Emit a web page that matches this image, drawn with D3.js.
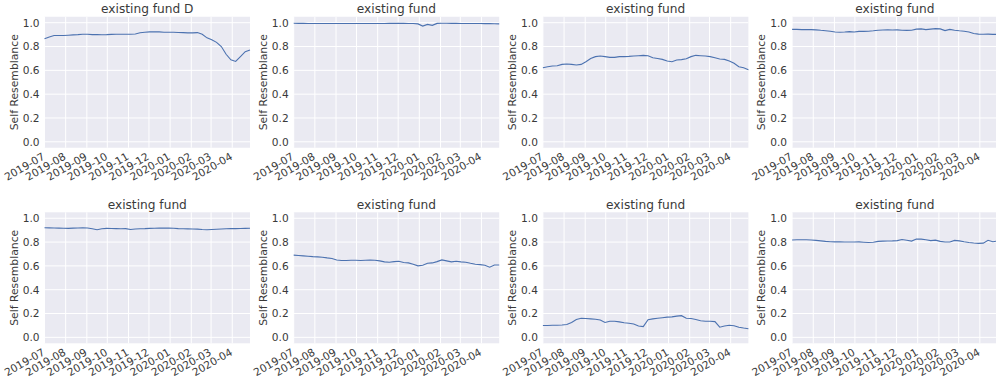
<!DOCTYPE html>
<html>
<head>
<meta charset="utf-8">
<script src="https://cdn.jsdelivr.net/npm/d3@7"></script>
<style>
  html, body { margin: 0; padding: 0; background: #ffffff; }
  svg { display: block; }
  text { font-family: "DejaVu Sans", "Noto Sans", sans-serif; fill: #3a3a3a; }
</style>
</head>
<body>
<svg id="chart" width="996" height="383"></svg>
<script>
// Weekly observation dates (Mondays)
const dates = [
  "2019-07-01","2019-07-08","2019-07-15","2019-07-22","2019-07-29",
  "2019-08-05","2019-08-12","2019-08-19","2019-08-26",
  "2019-09-02","2019-09-09","2019-09-16","2019-09-23","2019-09-30",
  "2019-10-07","2019-10-14","2019-10-21","2019-10-28",
  "2019-11-04","2019-11-11","2019-11-18","2019-11-25",
  "2019-12-02","2019-12-09","2019-12-16","2019-12-23","2019-12-30",
  "2020-01-06","2020-01-13","2020-01-20","2020-01-27",
  "2020-02-03","2020-02-10","2020-02-17","2020-02-24",
  "2020-03-02","2020-03-09","2020-03-16","2020-03-23","2020-03-30",
  "2020-04-06","2020-04-13","2020-04-20","2020-04-27"
];

// Panel titles, in reading order
const titles = [
  "existing fund D", "existing fund", "existing fund", "existing fund",
  "existing fund", "existing fund", "existing fund", "existing fund"
];

// Self resemblance of each fund, one value per date
const fundD = [0.865,0.880,0.892,0.892,0.892,0.895,0.898,0.900,0.903,0.903,0.900,0.900,0.899,0.900,
  0.902,0.903,0.903,0.903,0.903,0.905,0.915,0.920,0.923,0.923,0.923,0.920,0.920,0.920,0.918,0.917,
  0.915,0.915,0.917,0.903,0.873,0.857,0.835,0.800,0.735,0.688,0.675,0.716,0.757,0.770];
const fund2 = [0.995,0.994,0.994,0.993,0.993,0.993,0.993,0.993,0.993,0.993,0.993,0.993,0.993,0.993,
  0.993,0.993,0.993,0.993,0.993,0.993,0.994,0.994,0.994,0.994,0.993,0.993,0.990,0.972,0.986,0.978,
  0.994,0.996,0.995,0.994,0.994,0.993,0.993,0.993,0.993,0.993,0.992,0.992,0.991,0.990];
const fund3 = [0.622,0.630,0.636,0.639,0.650,0.653,0.650,0.645,0.650,0.672,0.700,0.715,0.720,0.715,
  0.709,0.709,0.715,0.715,0.717,0.720,0.723,0.726,0.723,0.706,0.700,0.692,0.678,0.672,0.687,0.690,
  0.698,0.715,0.726,0.723,0.720,0.715,0.706,0.695,0.692,0.678,0.659,0.630,0.622,0.605];
const fund4 = [0.944,0.944,0.942,0.942,0.942,0.940,0.936,0.933,0.928,0.922,0.920,0.922,0.925,0.922,
  0.927,0.927,0.928,0.932,0.937,0.939,0.940,0.939,0.940,0.937,0.936,0.937,0.946,0.948,0.942,0.946,
  0.950,0.948,0.934,0.944,0.937,0.932,0.928,0.922,0.910,0.904,0.903,0.904,0.902,0.902];
const fund5 = [0.920,0.919,0.918,0.917,0.916,0.915,0.917,0.918,0.920,0.918,0.912,0.903,0.912,0.915,
  0.914,0.913,0.912,0.913,0.905,0.910,0.912,0.913,0.915,0.916,0.917,0.918,0.917,0.916,0.913,0.912,
  0.911,0.910,0.909,0.905,0.904,0.906,0.908,0.910,0.912,0.913,0.913,0.914,0.915,0.916];
const fund6 = [0.690,0.687,0.684,0.681,0.678,0.676,0.673,0.667,0.662,0.650,0.645,0.645,0.648,0.648,
  0.645,0.648,0.650,0.648,0.642,0.634,0.631,0.636,0.639,0.628,0.625,0.614,0.600,0.606,0.622,0.625,
  0.636,0.650,0.642,0.634,0.639,0.634,0.631,0.622,0.614,0.611,0.606,0.589,0.608,0.608];
const fund7 = [0.100,0.100,0.101,0.102,0.104,0.108,0.125,0.150,0.160,0.158,0.155,0.152,0.145,0.125,
  0.135,0.135,0.130,0.122,0.118,0.112,0.095,0.090,0.148,0.155,0.160,0.165,0.170,0.172,0.178,0.182,
  0.160,0.158,0.150,0.140,0.135,0.135,0.132,0.085,0.095,0.102,0.098,0.085,0.078,0.072];
const fund8 = [0.818,0.819,0.820,0.820,0.818,0.814,0.810,0.806,0.803,0.802,0.802,0.801,0.801,0.801,
  0.802,0.799,0.796,0.798,0.806,0.808,0.809,0.810,0.812,0.821,0.815,0.808,0.826,0.825,0.820,0.812,
  0.816,0.806,0.800,0.801,0.814,0.810,0.803,0.797,0.792,0.789,0.791,0.815,0.803,0.808];

const funds = [fundD, fund2, fund3, fund4, fund5, fund6, fund7, fund8];

// Axis settings
const yTicks = [0, 0.2, 0.4, 0.6, 0.8, 1.0];
const yLimits = [-0.05, 1.05];
const xStart = "2019-07-01";
const xEnd = "2020-04-27";
const yLabel = "Self Resemblance";

const parse = d3.timeParse("%Y-%m-%d");
const dateObjs = dates.map(parse);

const svg = d3.select("#chart");

// Grid of 2 x 4 panels
const panelLeft0 = 44.5, panelStep = 249.2, panelW = 205.5;
const rowTop = [16.75, 212.3], panelH = 131;

const x = d3.scaleTime()
  .domain([parse(xStart), parse(xEnd)])
  .range([0, panelW]);
const y = d3.scaleLinear().domain(yLimits).range([panelH, 0]);

const monthTicks = d3.timeMonth.range(parse(xStart), d3.timeDay.offset(parse(xEnd), 1));
const fmtMonth = d3.timeFormat("%Y-%m");

funds.forEach((vals, i) => {
  const col = i % 4, row = Math.floor(i / 4);
  const g = svg.append("g")
    .attr("transform", `translate(${panelLeft0 + col * panelStep},${rowTop[row]})`);

  // plot background
  g.append("rect")
    .attr("width", panelW).attr("height", panelH)
    .attr("fill", "#EAEAF2");

  // grid lines
  g.append("g").selectAll("line").data(yTicks).join("line")
    .attr("x1", 0).attr("x2", panelW)
    .attr("y1", d => y(d)).attr("y2", d => y(d))
    .attr("stroke", "#ffffff").attr("stroke-width", 1);
  g.append("g").selectAll("line").data(monthTicks).join("line")
    .attr("x1", d => x(d)).attr("x2", d => x(d))
    .attr("y1", 0).attr("y2", panelH)
    .attr("stroke", "#ffffff").attr("stroke-width", 1);

  // y tick labels
  g.append("g").selectAll("text").data(yTicks).join("text")
    .attr("x", -5).attr("y", d => y(d))
    .attr("dy", "0.36em")
    .attr("text-anchor", "end")
    .attr("font-size", "10.6px")
    .text(d => d.toFixed(1));

  // x tick labels, rotated
  g.append("g").selectAll("text").data(monthTicks).join("text")
    .attr("text-anchor", "end")
    .attr("font-size", "10.6px")
    .attr("transform", d => `translate(${x(d) + 1},${panelH + 11}) rotate(-30)`)
    .text(d => fmtMonth(d));

  // y axis label
  g.append("text")
    .attr("transform", `translate(-27,${panelH / 2}) rotate(-90)`)
    .attr("text-anchor", "middle")
    .attr("font-size", "10.8px")
    .text(yLabel);

  // title
  g.append("text")
    .attr("x", panelW / 2).attr("y", -3.5)
    .attr("text-anchor", "middle")
    .attr("font-size", "12.2px")
    .text(titles[i]);

  // series line
  const line = d3.line()
    .x((d, k) => x(dateObjs[k]))
    .y(d => y(d));
  g.append("path")
    .datum(vals)
    .attr("d", line)
    .attr("fill", "none")
    .attr("stroke", "#4C72B0")
    .attr("stroke-width", 1.1);
});
</script>
</body>
</html>
